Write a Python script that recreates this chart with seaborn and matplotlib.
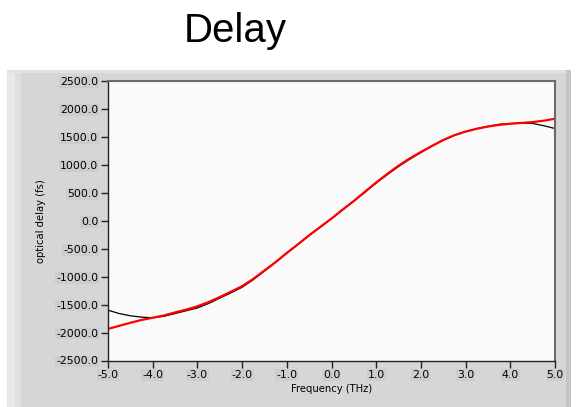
import matplotlib
matplotlib.use("Agg")
import matplotlib.pyplot as plt
import seaborn as sns
import pandas as pd
from matplotlib.patches import Rectangle
from matplotlib.ticker import FormatStrFormatter, MultipleLocator

freq = [-5.0, -4.75, -4.5, -4.25, -4.0, -3.75, -3.5, -3.25, -3.0, -2.75, -2.5,
        -2.25, -2.0, -1.75, -1.5, -1.25, -1.0, -0.75, -0.5, -0.25, 0.0,
        0.25, 0.5, 0.75, 1.0, 1.25, 1.5, 1.75, 2.0, 2.25, 2.5,
        2.75, 3.0, 3.25, 3.5, 3.75, 4.0, 4.25, 4.5, 4.75, 5.0]
fit_delay = [-1935, -1880, -1825, -1775, -1735, -1695, -1640, -1590, -1530, -1455, -1365,
             -1270, -1170, -1040, -890, -740, -575, -420, -260, -110, 40,
             200, 355, 520, 685, 840, 985, 1115, 1230, 1340, 1445,
             1530, 1595, 1645, 1685, 1715, 1735, 1750, 1765, 1790, 1825]
meas_delay = [-1600, -1660, -1700, -1725, -1735, -1710, -1660, -1610, -1560, -1480, -1385,
              -1290, -1190, -1055, -900, -745, -580, -425, -265, -115, 35,
              195, 350, 510, 675, 825, 970, 1100, 1220, 1335, 1440,
              1530, 1595, 1650, 1690, 1725, 1740, 1748, 1740, 1700, 1650]

df = pd.DataFrame({"freq": freq, "fit": fit_delay, "meas": meas_delay})

sns.set_style("white")
plt.rcParams["font.family"] = ["DejaVu Sans"]
plt.rcParams["axes.unicode_minus"] = False
plt.rcParams["text.color"] = "black"
plt.rcParams["axes.labelcolor"] = "black"
plt.rcParams["xtick.color"] = "black"
plt.rcParams["ytick.color"] = "black"

W, H = 576, 407
fig = plt.figure(figsize=(W / 100, H / 100), dpi=100)
fig.patch.set_facecolor("white")

# LabVIEW style gray panel (background axes)
bg = fig.add_axes([0, 0, 1, 1], zorder=-10)
bg.set_xlim(0, W)
bg.set_ylim(H, 0)
bg.axis("off")
bg.add_patch(Rectangle((7, 70), 563, 340, facecolor="#d6d6d6", edgecolor="none"))
bg.add_patch(Rectangle((7, 70), 8, 340, facecolor="#e8e8e8", edgecolor="none"))
bg.add_patch(Rectangle((15, 70), 6, 340, facecolor="#dfdfdf", edgecolor="none"))
bg.add_patch(Rectangle((7, 70), 563, 3, facecolor="#e2e2e2", edgecolor="none"))
bg.add_patch(Rectangle((566, 70), 5, 340, facecolor="#c4c4c4", edgecolor="none"))

ax = fig.add_axes([108 / W, 1 - 360.5 / H, (555 - 108) / W, (360.5 - 81) / H], zorder=1)
ax.set_facecolor("#fafafa")

sns.lineplot(data=df, x="freq", y="meas", ax=ax, color="black", linewidth=0.9)
sns.lineplot(data=df, x="freq", y="fit", ax=ax, color="#ff0000", linewidth=1.6)

ax.set_xlim(-5, 5)
ax.set_ylim(-2500, 2500)
ax.xaxis.set_major_locator(MultipleLocator(1.0))
ax.yaxis.set_major_locator(MultipleLocator(500.0))
ax.xaxis.set_major_formatter(FormatStrFormatter("%.1f"))
ax.yaxis.set_major_formatter(FormatStrFormatter("%.1f"))
ax.tick_params(axis="both", direction="out", length=5, width=1, color="#222222",
               labelsize=7.8, pad=2, bottom=True, left=True)
for lab in ax.get_xticklabels() + ax.get_yticklabels():
    lab.set_bbox(dict(facecolor="#cdcdcd", edgecolor="none", pad=0.6))

for s in ["left", "bottom"]:
    ax.spines[s].set_color("#222222")
    ax.spines[s].set_linewidth(1.0)
for s in ["top", "right"]:
    ax.spines[s].set_color("#6a6a6a")
    ax.spines[s].set_linewidth(1.5)

ax.set_xlabel("Frequency (THz)", fontsize=7.2, labelpad=3)
ax.set_ylabel("optical delay (fs)", fontsize=7.2, labelpad=7)

fig.text(235 / W, 1 - 31 / H, "Delay", fontsize=29, ha="center", va="center",
         family=["Liberation Sans", "DejaVu Sans"], color="black")

fig.savefig("out.png", dpi=100)
